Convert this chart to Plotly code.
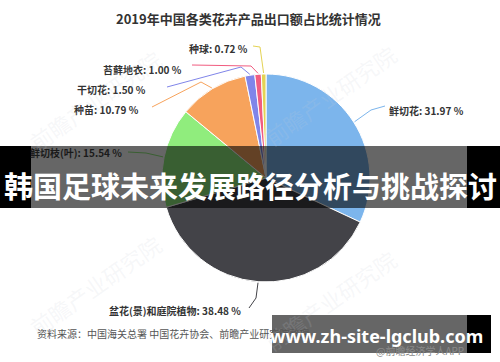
import math
import plotly.graph_objects as go

# ---- data ----
categories = ["鲜切花", "盆花(景)和庭院植物", "鲜切枝(叶)", "种苗", "干切花", "苔藓地衣", "种球"]
values = [31.97, 38.48, 15.54, 10.79, 1.50, 1.00, 0.72]
colors = ["#7cb5ec", "#434348", "#90ed7d", "#f7a35c", "#8085e9", "#f15c80", "#e4d354"]
title_text = "2019年中国各类花卉产品出口额占比统计情况"
source_text = "资料来源：中国海关总署 中国花卉协会、前瞻产业研究院整理"
credit_text = "@前瞻经济学人APP"
banner_text = "韩国足球未来发展路径分析与挑战探讨"
site_text = "www.zh-site-lgclub.com"

# ---- layout constants (pixels, top-left origin) ----
W, H = 500, 362
CX, CY, R = 266, 178, 104
FONT = "Noto Sans CJK SC"

# label anchor (x, y, xanchor) and connector start/elbow points
label_layout = [
    (387, 110, "left", [(385, 106), (371, 110)]),
    (243, 310, "right", [(249, 308), (256, 298)]),
    (124, 152, "right", [(128, 152), (146, 153)]),
    (141, 109, "right", [(152, 107), (201, 82)]),
    (148, 89, "right", [(167, 87), (241, 67)]),
    (184, 69, "right", [(192, 65), (251, 66)]),
    (250, 48, "right", [(253, 46), (260, 47)]),
]

fig = go.Figure()
fig.add_trace(go.Pie(
    labels=categories, values=values, sort=False, direction="clockwise", rotation=0,
    marker=dict(colors=colors, line=dict(color="white", width=1)),
    textinfo="none", hoverinfo="label+percent", showlegend=False,
    domain=dict(x=[(CX - R) / W, (CX + R) / W], y=[(H - CY - R) / H, (H - CY + R) / H]),
))
# invisible scatter to create axes in pixel space
fig.add_trace(go.Scatter(x=[0, W], y=[0, H], mode="markers", marker=dict(opacity=0),
                         hoverinfo="skip", showlegend=False))

shapes = []
annotations = []

total = sum(values)
cum = 0.0
for cat, val, col, (lx, ly, anc, pts) in zip(categories, values, colors, label_layout):
    mid = (cum + val / 2) / total * 2 * math.pi
    cum += val
    ex = CX + (R + 1) * math.sin(mid)
    ey = CY - (R + 1) * math.cos(mid)
    allpts = pts + [(ex, ey)]
    path = "M " + " L ".join(f"{x:.1f},{y:.1f}" for x, y in allpts)
    shapes.append(dict(type="path", path=path, xref="x", yref="y",
                       line=dict(color=col, width=1), layer="above"))
    annotations.append(dict(x=lx, y=ly, xref="x", yref="y", xanchor=anc, yanchor="middle",
                            text=f"<b>{cat}: {val:.2f} %</b>", showarrow=False,
                            font=dict(family=FONT, size=10,
                                      color="#1a1a1a" if cat == "鲜切枝(叶)" else "#333333")))

# faint diagonal watermarks
for wx, wy in [(95, 100), (330, 95), (95, 285), (330, 300)]:
    annotations.append(dict(x=wx, y=wy, xref="x", yref="y", text="前瞻产业研究院",
                            textangle=-35, showarrow=False,
                            font=dict(family=FONT, size=22, color="rgba(200,205,215,0.16)")))

# title and source
annotations.append(dict(x=248, y=18, xref="x", yref="y", text=f"<b>{title_text}</b>",
                        showarrow=False, font=dict(family=FONT, size=13, color="#333333")))
annotations.append(dict(x=35, y=333, xref="x", yref="y", xanchor="left", text=source_text,
                        showarrow=False, font=dict(family=FONT, size=10, color="#555555")))
annotations.append(dict(x=466, y=350, xref="x", yref="y", xanchor="right", text=credit_text,
                        showarrow=False, font=dict(family=FONT, size=10, color="#8a8a8a")))

# banner overlay
shapes += [
    dict(type="rect", xref="x", yref="y", x0=31, x1=467, y0=146, y1=208,
         fillcolor="rgba(0,0,0,0.6)", line=dict(width=0), layer="above"),
    dict(type="rect", xref="x", yref="y", x0=0, x1=31, y0=146, y1=208,
         fillcolor="black", line=dict(width=0), layer="above"),
    dict(type="rect", xref="x", yref="y", x0=467, x1=500, y0=146, y1=208,
         fillcolor="black", line=dict(width=0), layer="above"),
    dict(type="rect", xref="x", yref="y", x0=272, x1=467, y0=315, y1=353,
         fillcolor="rgba(0,0,0,0.6)", line=dict(width=0), layer="above"),
    dict(type="rect", xref="x", yref="y", x0=467, x1=491, y0=315, y1=353,
         fillcolor="black", line=dict(width=0), layer="above"),
]
annotations.append(dict(x=250, y=185, xref="x", yref="y", text=f"<b>{banner_text}</b>",
                        showarrow=False, font=dict(family=FONT, size=29, color="white")))
annotations.append(dict(x=376, y=336, xref="x", yref="y", text=f"<b>{site_text}</b>",
                        showarrow=False, font=dict(family="Noto Sans", size=18, color="white")))

fig.update_layout(
    width=W, height=H, margin=dict(l=0, r=0, t=0, b=0),
    paper_bgcolor="white", plot_bgcolor="rgba(0,0,0,0)",
    xaxis=dict(range=[0, W], visible=False, fixedrange=True),
    yaxis=dict(range=[H, 0], visible=False, fixedrange=True),
    shapes=shapes, annotations=annotations,
)
fig.write_html("out.html")
